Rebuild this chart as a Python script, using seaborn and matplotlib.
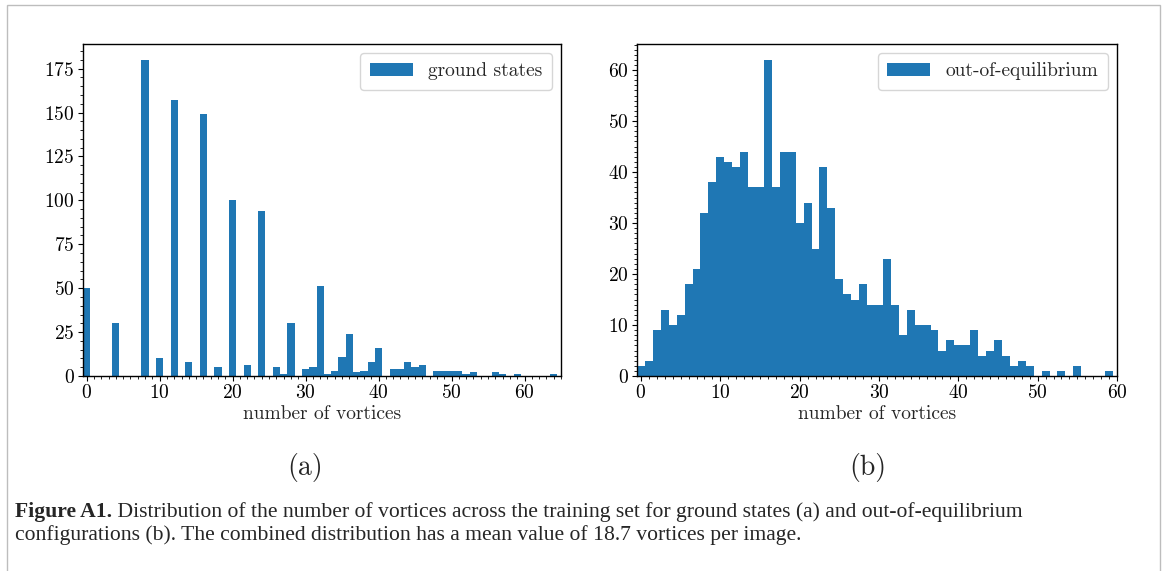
import matplotlib
matplotlib.use("Agg")
import matplotlib.pyplot as plt
from matplotlib.patches import Rectangle
from matplotlib.ticker import MultipleLocator
import pandas as pd
import seaborn as sns

# Ground states: number of vortices in an image -> number of images
gs_vortices = [0, 4, 8, 10, 12, 14, 16, 18, 20, 22,
               24, 26, 27, 28, 30, 31, 32, 33, 34, 35,
               36, 37, 38, 39, 40, 42, 43, 44, 45, 46,
               48, 49, 50, 51, 52, 53, 56, 57, 59, 64]
gs_counts = [50, 30, 180, 10, 157, 8, 149, 5, 100, 6,
             94, 5, 1, 30, 4, 5, 51, 1, 3, 11,
             24, 2, 3, 8, 16, 4, 4, 8, 5, 6,
             3, 3, 3, 3, 1, 2, 2, 1, 1, 1]

# Out-of-equilibrium configurations: counts for 0..59 vortices
oe_vortices = list(range(60))
oe_counts = [2, 3, 9, 13, 10, 12, 18, 21, 32, 38,
             43, 42, 41, 44, 37, 37, 62, 37, 44, 44,
             30, 34, 25, 41, 33, 19, 16, 15, 18, 14,
             14, 23, 14, 8, 13, 10, 10, 9, 5, 7,
             6, 6, 9, 4, 5, 7, 4, 2, 3, 2,
             0, 1, 0, 1, 0, 2, 0, 0, 0, 1]

gs_yticks = [0, 25, 50, 75, 100, 125, 150, 175]
oe_yticks = [0, 10, 20, 30, 40, 50, 60]
xticks = [0, 10, 20, 30, 40, 50, 60]

caption_bold = "Figure A1."
caption_line1 = (" Distribution of the number of vortices across the training set "
                 "for ground states (a) and out-of-equilibrium")
caption_line2 = ("configurations (b). The combined distribution has a mean value "
                 "of 18.7 vortices per image.")

sns.set_style("ticks")
plt.rcParams.update({
    "font.family": ["cmr10", "DejaVu Serif"],
    "mathtext.fontset": "cm",
    "axes.formatter.use_mathtext": True,
    "axes.unicode_minus": False,
    "font.size": 14,
    "axes.edgecolor": "black",
    "axes.linewidth": 1.0,
    "xtick.color": "black",
    "ytick.color": "black",
    "xtick.direction": "out",
    "ytick.direction": "out",
    "xtick.major.size": 3.5,
    "ytick.major.size": 3.5,
    "xtick.minor.size": 2.0,
    "ytick.minor.size": 2.0,
})

blue = "#1f77b4"
fig = plt.figure(figsize=(11.67, 5.71), dpi=100)
W, H = 1167, 571

def px_axes(x0, y0, x1, y1):
    return fig.add_axes([x0 / W, 1 - y1 / H, (x1 - x0) / W, (y1 - y0) / H])

ax_a = px_axes(83, 44, 561, 376)
ax_b = px_axes(637, 44, 1117, 376)

panels = [
    (ax_a, gs_vortices, gs_counts, "ground states", gs_yticks, (-0.5, 65), 5),
    (ax_b, oe_vortices, oe_counts, "out-of-equilibrium", oe_yticks, (-0.5, 60), 1),
]

for ax, vort, cnt, label, yt, xlim, yminor in panels:
    df = pd.DataFrame({"vortices": vort, "count": cnt})
    sns.histplot(data=df, x="vortices", weights="count", discrete=True,
                 shrink=1.0, color=blue, alpha=1.0, linewidth=0,
                 edgecolor="none", label=label, ax=ax)
    ax.set_xlim(*xlim)
    ax.set_xticks(xticks)
    ax.set_yticks(yt)
    ax.xaxis.set_minor_locator(MultipleLocator(1))
    ax.yaxis.set_minor_locator(MultipleLocator(yminor))
    ax.set_xlabel("number of vortices", fontsize=14, labelpad=2)
    ax.set_ylabel("")
    ax.tick_params(which="both", top=False, right=False, labelsize=14, pad=2.5)
    for s in ax.spines.values():
        s.set_visible(True)
        s.set_color("black")
    ax.legend(loc="upper right", fontsize=14, handlelength=2.2,
              fancybox=True, framealpha=0.8, edgecolor="0.8",
              borderaxespad=0.45, borderpad=0.5)

fig.text(305 / W, 1 - 467 / H, "(a)", ha="center", va="center", fontsize=20)
fig.text(868 / W, 1 - 467 / H, "(b)", ha="center", va="center", fontsize=20)

cap_font = ["Liberation Serif", "DejaVu Serif"]
cap_size = 15.6
t = fig.text(15 / W, 1 - 512 / H, caption_bold, ha="left", va="center",
             fontsize=cap_size, fontweight="bold", family=cap_font)
fig.canvas.draw()
bb = t.get_window_extent()
fig.text(bb.x1 / W, 1 - 512 / H, caption_line1, ha="left", va="center",
         fontsize=cap_size, family=cap_font)
fig.text(15 / W, 1 - 535 / H, caption_line2, ha="left", va="center",
         fontsize=cap_size, family=cap_font)

fig.patches.append(Rectangle((7 / W, -0.02), (1160 - 7) / W, 1.02 - 5 / H,
                             transform=fig.transFigure, fill=False,
                             edgecolor="#bdbdbd", linewidth=1.0))

fig.savefig("out.png", dpi=100)
